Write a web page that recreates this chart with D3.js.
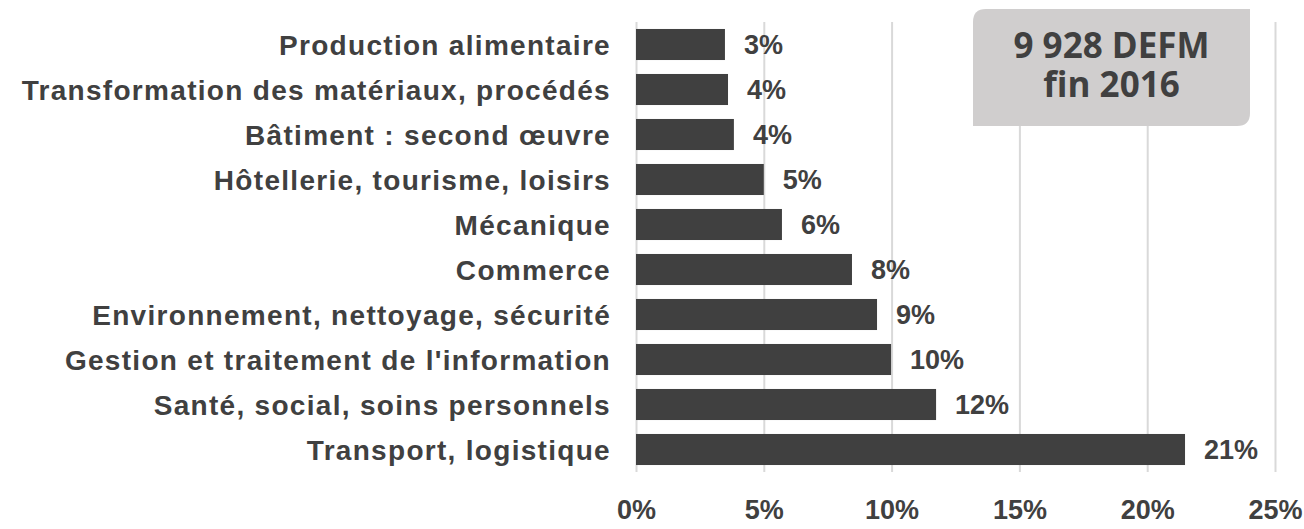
<!DOCTYPE html>
<html>
<head>
<meta charset="utf-8">
<script src="https://cdn.jsdelivr.net/npm/d3@7"></script>
<style>
  body { margin: 0; background: #fff; }
  svg text { font-family: "Liberation Sans", Arial, sans-serif; font-weight: bold; fill: #404040; }
</style>
</head>
<body>
<svg id="chart" width="1304" height="529"></svg>
<script>
// categories top to bottom
const categories = [
  "Production alimentaire",
  "Transformation des matériaux, procédés",
  "Bâtiment : second œuvre",
  "Hôtellerie, tourisme, loisirs",
  "Mécanique",
  "Commerce",
  "Environnement, nettoyage, sécurité",
  "Gestion et traitement de l'information",
  "Santé, social, soins personnels",
  "Transport, logistique"
];
// share of job seekers, in %
const shares = [3.48, 3.6, 3.83, 5.0, 5.71, 8.45, 9.43, 9.98, 11.74, 21.48];
const xTicks = [0, 5, 10, 15, 20, 25];
const boxLines = ["9 928 DEFM", "fin 2016"];

const svg = d3.select("#chart");
const margin = { left: 636, right: 29, top: 22, bottom: 57 };
const W = 1304, H = 529;

const x = d3.scaleLinear().domain([0, 25]).range([margin.left, W - margin.right]);
const y = d3.scaleBand().domain(categories).range([margin.top, H - margin.bottom])
  .paddingInner(0.31).paddingOuter(0.155);

// gridlines + tick labels
const axis = svg.append("g")
  .attr("transform", `translate(0,${H - margin.bottom})`)
  .call(d3.axisBottom(x).tickValues(xTicks).tickFormat(d => d + "%")
    .tickSize(-(H - margin.bottom - margin.top)).tickSizeOuter(0).tickPadding(28));
axis.select(".domain").remove();
axis.selectAll(".tick line").attr("stroke", "#d9d9d9").attr("stroke-width", 2);
axis.selectAll(".tick text").style("font-size", "27px").attr("fill", "#404040");

// info box with two rounded corners
const bx0 = 973, bx1 = 1250, by0 = 9, by1 = 126, r = 13;
svg.append("path")
  .attr("d", `M${bx0},${by0 + r} Q${bx0},${by0} ${bx0 + r},${by0} L${bx1},${by0} L${bx1},${by1 - r} Q${bx1},${by1} ${bx1 - r},${by1} L${bx0},${by1} Z`)
  .attr("fill", "#d0cece");
svg.append("g").selectAll("text")
  .data(boxLines)
  .join("text")
  .attr("x", (bx0 + bx1) / 2)
  .attr("y", (d, i) => 58 + i * 39)
  .attr("text-anchor", "middle")
  .style("font-family", "'Open Sans', sans-serif")
  .style("font-size", "35px")
  .text(d => d);

// bars
svg.append("g").selectAll("rect")
  .data(shares)
  .join("rect")
  .attr("x", x(0))
  .attr("y", (d, i) => y(categories[i]))
  .attr("width", d => x(d) - x(0))
  .attr("height", y.bandwidth())
  .attr("fill", "#404040");

// value labels
svg.append("g").selectAll("text")
  .data(shares)
  .join("text")
  .attr("x", d => x(d) + 19)
  .attr("y", (d, i) => y(categories[i]) + y.bandwidth() / 2)
  .attr("dy", "0.36em")
  .style("font-size", "27px")
  .text(d => Math.round(d) + "%");

// category labels (source font is a bit wider, hence the spacing)
svg.append("g").selectAll("text")
  .data(categories)
  .join("text")
  .attr("x", 611)
  .attr("y", d => y(d) + y.bandwidth() / 2)
  .attr("dy", "0.36em")
  .attr("text-anchor", "end")
  .style("font-size", "28px")
  .style("letter-spacing", "1.3px")
  .text(d => d);
</script>
</body>
</html>
